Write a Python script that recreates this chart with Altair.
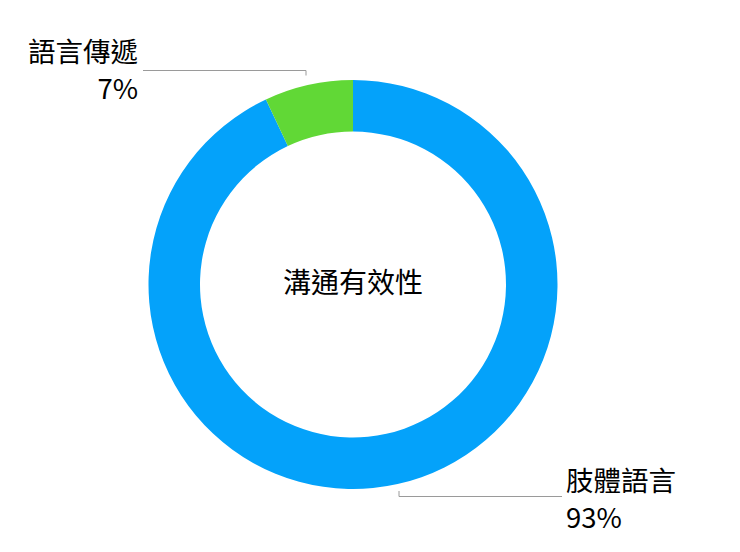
import altair as alt
import pandas as pd

categories = ["肢體語言", "語言傳遞"]
values = [93, 7]
colors = ["#04A2FA", "#61D836"]
order = [1, 2]
center_title = "溝通有效性"

df = pd.DataFrame({"cat": categories, "val": values, "ord": order,
                   "pct": [f"{v}%" for v in values]})

W, H = 724, 536
CX, CY = 345, 276.5
FONT = "Noto Sans CJK TC"
FS = 27.5

arc = alt.Chart(df).mark_arc(innerRadius=153, outerRadius=204.5, stroke=None).encode(
    theta=alt.Theta("val:Q", stack=True),
    order=alt.Order("ord:Q"),
    color=alt.Color("cat:N", scale=alt.Scale(domain=categories, range=colors), legend=None),
    x=alt.value(CX), y=alt.value(CY),
)

center = alt.Chart(pd.DataFrame({"t": [center_title]})).mark_text(
    font=FONT, fontSize=28, color="#000", align="center", baseline="middle"
).encode(text="t:N", x=alt.value(CX), y=alt.value(CY + 0.5))

small = df[df["cat"] == "語言傳遞"]
big = df[df["cat"] == "肢體語言"]

def lbl(d, field, align, x, y):
    return alt.Chart(d).mark_text(font=FONT, fontSize=FS, color="#000", align=align, baseline="middle").encode(
        text=f"{field}:N", x=alt.value(x), y=alt.value(y))

lbl_small_name = lbl(small, "cat", "right", 130, 45.5)
lbl_small_pct = lbl(small, "pct", "right", 130, 82.5)
lbl_big_name = lbl(big, "cat", "left", 558, 474.5)
lbl_big_pct = lbl(big, "pct", "left", 558, 511.5)

LC = "#9a9a9a"
one = pd.DataFrame({"a": [0]})
r1 = alt.Chart(one).mark_rule(color=LC, strokeWidth=1).encode(x=alt.value(135), x2=alt.value(298), y=alt.value(62.5))
r2 = alt.Chart(one).mark_rule(color=LC, strokeWidth=1).encode(x=alt.value(298), y=alt.value(62.5), y2=alt.value(67.5))
r3 = alt.Chart(one).mark_rule(color=LC, strokeWidth=1).encode(x=alt.value(391), x2=alt.value(554), y=alt.value(488.5))
r4 = alt.Chart(one).mark_rule(color=LC, strokeWidth=1).encode(x=alt.value(391), y=alt.value(483), y2=alt.value(488.5))

chart = alt.layer(arc, center, lbl_small_name, lbl_small_pct, lbl_big_name, lbl_big_pct, r1, r2, r3, r4).properties(
    width=W, height=H, padding=0, background="white"
).configure_view(stroke=None)

chart.save("out.html", embed_options={"renderer": "svg", "actions": False})
